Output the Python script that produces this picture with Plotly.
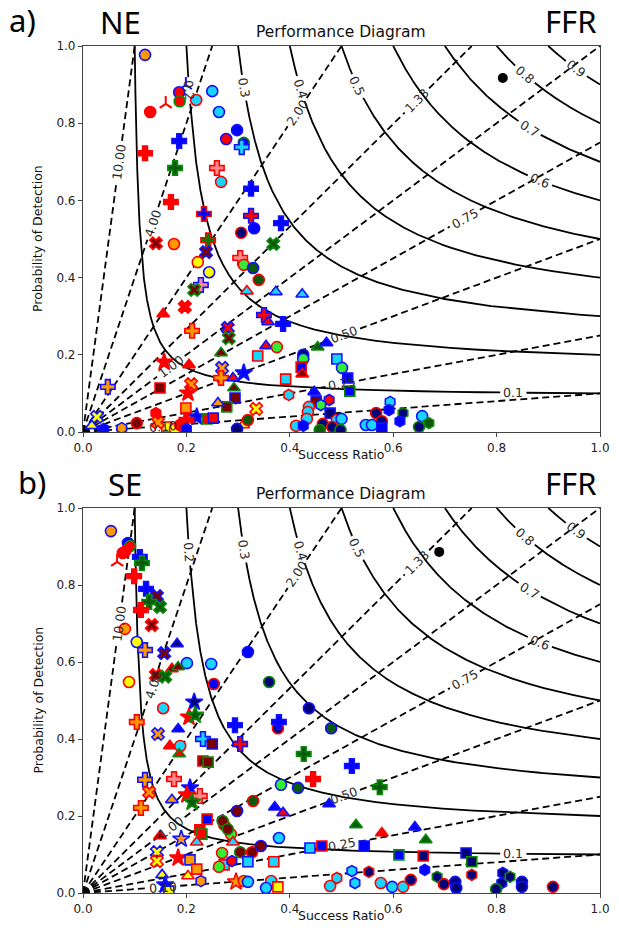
import numpy as np
import plotly.graph_objects as go

# ---------------- data ----------------
csi_levels = [0.1, 0.2, 0.3, 0.4, 0.5, 0.6, 0.7, 0.8, 0.9]
bias_levels = [10.0, 4.0, 2.0, 1.33, 1.0, 0.75, 0.5, 0.25, 0.1]

# label anchor points (success ratio, POD)
csi_label_sr = [0.832, 0.213, 0.319, 0.424, 0.536, 0.884, 0.865, 0.857, 0.955]
csi_label_pod = [0.104, 0.886, 0.894, 0.891, 0.899, 0.653, 0.790, 0.930, 0.943]
bias_label_sr = [0.072, 0.133, 0.414, 0.646, 0.168, 0.733, 0.503, 0.501, 0.155]
bias_label_pod = [0.700, 0.541, 0.829, 0.859, 0.174, 0.567, 0.259, 0.127, 0.016]

# Panel a) NE : success ratio, POD, and category code (marker kind + fill + edge group)
sr_ne = [0.120, 0.199, 0.186, 0.187, 0.160, 0.219, 0.250, 0.130, 0.263, 0.298,
         0.277, 0.311, 0.307, 0.186, 0.120, 0.178, 0.259, 0.267, 0.170, 0.325,
         0.325, 0.234, 0.331, 0.306, 0.383, 0.242, 0.141, 0.176, 0.238, 0.368,
         0.222, 0.244, 0.304, 0.311, 0.329, 0.340, 0.228, 0.215, 0.197, 0.155,
         0.317, 0.373, 0.350, 0.358, 0.387, 0.211, 0.280, 0.282, 0.267, 0.354,
         0.375, 0.338, 0.157, 0.205, 0.269, 0.267, 0.290, 0.311, 0.149, 0.209,
         0.203, 0.292, 0.294, 0.278, 0.261, 0.199, 0.141, 0.335, 0.220, 0.240,
         0.252, 0.104, 0.310, 0.319, 0.200, 0.048, 0.027, 0.017, 0.040, 0.075,
         0.162, 0.178, 0.188, 0.200, 0.298, 0.145, 0.424, 0.454, 0.471, 0.426,
         0.426, 0.422, 0.424, 0.491, 0.501, 0.512, 0.516, 0.392, 0.447, 0.398,
         0.451, 0.476, 0.437, 0.435, 0.433, 0.478, 0.460, 0.491, 0.500, 0.464,
         0.482, 0.412, 0.426, 0.458, 0.498, 0.594, 0.592, 0.619, 0.656, 0.669,
         0.613, 0.567, 0.578, 0.547, 0.559, 0.578, 0.650]
pod_ne = [0.977, 0.899, 0.880, 0.857, 0.850, 0.860, 0.883, 0.829, 0.829, 0.782,
          0.759, 0.749, 0.738, 0.754, 0.722, 0.684, 0.684, 0.648, 0.596, 0.630,
          0.560, 0.565, 0.528, 0.516, 0.541, 0.497, 0.489, 0.487, 0.466, 0.487,
          0.440, 0.414, 0.451, 0.433, 0.425, 0.394, 0.381, 0.368, 0.324, 0.306,
          0.365, 0.363, 0.303, 0.285, 0.280, 0.262, 0.270, 0.243, 0.205, 0.223,
          0.220, 0.197, 0.181, 0.174, 0.166, 0.140, 0.140, 0.153, 0.114, 0.124,
          0.101, 0.114, 0.088, 0.065, 0.075, 0.062, 0.049, 0.060, 0.039, 0.034,
          0.036, 0.023, 0.018, 0.031, 0.031, 0.117, 0.039, 0.016, 0.008, 0.010,
          0.013, 0.008, 0.018, 0.008, 0.008, 0.025, 0.357, 0.220, 0.231, 0.200,
          0.189, 0.168, 0.150, 0.189, 0.166, 0.140, 0.106, 0.137, 0.104, 0.096,
          0.080, 0.083, 0.065, 0.052, 0.034, 0.049, 0.070, 0.031, 0.034, 0.021,
          0.013, 0.016, 0.016, 0.005, 0.005, 0.078, 0.057, 0.049, 0.041, 0.023,
          0.028, 0.049, 0.028, 0.018, 0.018, 0.010, 0.013]
kind_ne = ["oOb", "YBb", "oRb", "oRg", "YRr", "oCr", "oCb", "oRr", "oCb", "oBb",
           "oRb", "oBg", "PCb", "PBb", "PRr", "PKg", "PPr", "oCr", "PRr", "PBb",
           "PRb", "PBr", "oBb", "oNr", "PBb", "PGr", "XDr", "oOr", "XDb", "XKg",
           "oYr", "oYb", "PPr", "oLr", "oKb", "oKr", "PPb", "XDg", "XRr", "^Rr",
           "^Cr", "^Cb", "PRb", "^Rb", "PBb", "POr", "XRb", "XDg", "^Dg", "^Rb",
           "oLr", "sCr", "*Rr", "^Rr", "XOb", "POr", "^Rb", "*Bb", "sDr", "XOr",
           "*Rr", "^Dg", "sDb", "sDg", "^Ob", "sOr", "hRr", "XYr", "*Bb", "sRg",
           "sRb", "oDr", "^Yr", "oKr", "PRr", "POb", "XYb", "^Yb", "hBb", "hOb",
           "sYr", "oYr", "oRr", "hBb", "oNb", "XOr", "^Cb", "^Kg", "^Bb", "oNb",
           "oLb", "sBr", "^Dr", "sCb", "oLb", "sBb", "sBg", "sCr", "^Bb", "hCr",
           "sDb", "hRb", "oCr", "oCr", "oCr", "sNb", "hLb", "oCr", "oCb", "oNr",
           "oNr", "oCr", "hBb", "oKg", "oNg", "hCb", "hBb", "hNg", "oCb", "hKg",
           "hBb", "oNr", "oNr", "oCb", "oCb", "sBb", "oNg"]

# Panel b) SE
sr_se = [0.054, 0.087, 0.091, 0.081, 0.077, 0.066, 0.110, 0.114, 0.099, 0.122,
         0.143, 0.128, 0.149, 0.112, 0.133, 0.081, 0.104, 0.120, 0.182, 0.157,
         0.201, 0.248, 0.172, 0.184, 0.141, 0.159, 0.089, 0.253, 0.319, 0.360,
         0.155, 0.215, 0.205, 0.217, 0.104, 0.145, 0.184, 0.168, 0.188, 0.186,
         0.232, 0.250, 0.232, 0.242, 0.294, 0.377, 0.379, 0.304, 0.120, 0.128,
         0.176, 0.172, 0.207, 0.201, 0.226, 0.211, 0.112, 0.298, 0.329, 0.383,
         0.416, 0.371, 0.387, 0.240, 0.226, 0.230, 0.273, 0.270, 0.286, 0.280,
         0.220, 0.290, 0.149, 0.190, 0.269, 0.304, 0.327, 0.344, 0.379, 0.143,
         0.143, 0.184, 0.207, 0.220, 0.273, 0.319, 0.369, 0.288, 0.263, 0.153,
         0.159, 0.166, 0.203, 0.228, 0.296, 0.311, 0.319, 0.364, 0.377, 0.354,
         0.437, 0.480, 0.427, 0.520, 0.445, 0.574, 0.476, 0.528, 0.578, 0.642,
         0.663, 0.439, 0.462, 0.544, 0.611, 0.658, 0.741, 0.752, 0.520, 0.553,
         0.661, 0.491, 0.478, 0.526, 0.576, 0.598, 0.619, 0.634, 0.685, 0.698,
         0.720, 0.722, 0.752, 0.812, 0.810, 0.826, 0.799, 0.849, 0.849, 0.909]
pod_se = [0.940, 0.909, 0.901, 0.886, 0.883, 0.860, 0.873, 0.857, 0.823, 0.790,
          0.771, 0.756, 0.743, 0.735, 0.696, 0.686, 0.652, 0.631, 0.647, 0.623,
          0.597, 0.595, 0.582, 0.587, 0.566, 0.562, 0.548, 0.543, 0.626, 0.548,
          0.480, 0.496, 0.457, 0.462, 0.444, 0.413, 0.426, 0.382, 0.382, 0.361,
          0.400, 0.387, 0.343, 0.340, 0.436, 0.428, 0.444, 0.387, 0.294, 0.262,
          0.296, 0.242, 0.273, 0.255, 0.252, 0.236, 0.221, 0.213, 0.239, 0.281,
          0.273, 0.223, 0.208, 0.192, 0.164, 0.153, 0.177, 0.187, 0.153, 0.166,
          0.132, 0.132, 0.148, 0.140, 0.104, 0.106, 0.106, 0.122, 0.143, 0.106,
          0.083, 0.091, 0.086, 0.062, 0.073, 0.081, 0.081, 0.083, 0.068, 0.047,
          0.021, 0.005, 0.044, 0.031, 0.029, 0.031, 0.029, 0.031, 0.016, 0.013,
          0.480, 0.428, 0.361, 0.330, 0.296, 0.275, 0.231, 0.177, 0.156, 0.171,
          0.138, 0.117, 0.122, 0.122, 0.099, 0.096, 0.104, 0.081, 0.057, 0.055,
          0.060, 0.039, 0.018, 0.026, 0.026, 0.016, 0.016, 0.034, 0.042, 0.023,
          0.029, 0.013, 0.047, 0.052, 0.026, 0.042, 0.010, 0.029, 0.016, 0.016]
kind_se = ["oOb", "oBb", "oRg", "oRr", "oRr", "YRr", "PBb", "PKg", "PRr", "PBb",
           "XDb", "PKg", "XKg", "PRr", "XDr", "oOr", "oYb", "POb", "^Nb", "XDb",
           "oCb", "oCb", "^Dr", "^Dg", "XDr", "XKg", "oYr", "oBr", "oBb", "oNg",
           "oCr", "*Nb", "*Rr", "*Kg", "POr", "XOb", "^Bb", "^Rr", "oCr", "^Rg",
           "PCb", "sDb", "sDr", "sDg", "PBb", "oNr", "PBb", "PRb", "POb", "XOr",
           "PPr", "^Ob", "*Bb", "*Rr", "PPr", "*Kg", "POr", "oDb", "oKr", "oLb",
           "oKb", "^Bb", "^Rb", "sBr", "sRr", "sRg", "oDr", "oDg", "oLr", "oDg",
           "^Cr", "^Cr", "^Dr", "*Ob", "oLr", "oDg", "oDr", "oDb", "oCb", "XYb",
           "XYr", "*Rr", "sOb", "sOr", "sCr", "sCb", "sCr", "hRb", "oLr", "^Yb",
           "*Bb", "sYb", "^Yr", "hOb", "*Or", "oOr", "oCb", "oCr", "sYr", "oCb",
           "oNb", "oKb", "PKg", "PBb", "PRr", "PKg", "^Bb", "^Kg", "^Rr", "^Bb",
           "^Kg", "sCb", "sBr", "sBb", "sBg", "sNr", "sNb", "sNg", "hCb", "hNr",
           "hBb", "hCr", "oCr", "hCb", "oCr", "oCb", "oCr", "oNr", "hNg", "oNr",
           "oNb", "oNb", "hNr", "hNb", "hNb", "hNg", "oNg", "oNb", "oNb", "oNr"]

best_ne = ([0.812], [0.917])
best_se = ([0.689], [0.886])

# ---------------- styling ----------------
W, H = 619, 937
X0, X1 = 83, 600
PANELS = [("x", "y", 46, 432), ("x2", "y2", 508, 893)]
FILL = {'R': '#ff0000', 'B': '#0000ff', 'G': '#008000', 'K': '#0b5a0b',
        'L': '#33ee33', 'O': '#ff9900', 'Y': '#ffff00', 'C': '#19d4ff',
        'N': '#000078', 'D': '#780000', 'P': '#ff8c8c'}
EDGE = {'b': '#1010ff', 'r': '#ff0000', 'g': '#0a8a0a'}
SYM = {'o': 'circle', 's': 'square', '^': 'triangle-up', 'P': 'cross',
       'X': 'x', '*': 'star', 'h': 'hexagon', 'Y': 'y-up'}
SIZE = {'o': 11, 's': 10, '^': 11, 'P': 12, 'X': 11, '*': 13, 'h': 11, 'Y': 10}
FONT_TXT = "DejaVu Sans"


def to_px(sr, pod, top, bot):
    return X0 + np.asarray(sr) * (X1 - X0), bot - np.asarray(pod) * (bot - top)


def text_w(s, fs=12.5):
    return sum(0.32 if c == '.' else 0.64 for c in s) * fs


fig = go.Figure()
annotations = []


def add_curve(sr, pod, lab_sr, lab_pod, text, xa, ya, top, bot, dash):
    px, py = to_px(sr, pod, top, bot)
    tx, ty = to_px(lab_sr, lab_pod, top, bot)
    i = int(np.argmin(np.hypot(px - tx, py - ty)))
    lx, ly = px[i], py[i]
    j0, j1 = max(i - 3, 0), min(i + 3, len(px) - 1)
    dx, dy = px[j1] - px[j0], py[j1] - py[j0]
    ang = np.degrees(np.arctan2(-dy, dx))
    if ang > 90:
        ang -= 180
    if ang <= -90:
        ang += 180
    r = text_w(text) / 2 + 3
    y = np.array(pod, dtype=float)
    y[np.hypot(px - lx, py - ly) < r] = np.nan
    fig.add_trace(go.Scatter(x=sr, y=y, mode="lines", xaxis=xa, yaxis=ya,
                             line=dict(color="black", width=1.8,
                                       dash="7px,4px" if dash else "solid"),
                             hoverinfo="skip", showlegend=False))
    annotations.append(dict(x=float(sr[i]), y=float(pod[i]), xref=xa, yref=ya,
                            text=text, showarrow=False, textangle=-ang,
                            font=dict(family=FONT_TXT, size=12.5, color="#2a2a2a")))


for xa, ya, top, bot in PANELS:
    t = np.linspace(0, 1, 3000)
    for c, ls, lp in zip(csi_levels, csi_label_sr, csi_label_pod):
        s = c + (1 - c) * t ** 2
        p = 1.0 / (1.0 / c + 1.0 - 1.0 / s)
        add_curve(s, p, ls, lp, f"{c:.1f}", xa, ya, top, bot, False)
    for b, ls, lp in zip(bias_levels, bias_label_sr, bias_label_pod):
        s = np.linspace(0, min(1.0, 1.0 / b), 3000)
        p = b * s
        add_curve(s, p, ls, lp, f"{b:.2f}", xa, ya, top, bot, True)

for (xa, ya, top, bot), sr, pod, kind, best in [
        (PANELS[0], sr_ne, pod_ne, kind_ne, best_ne),
        (PANELS[1], sr_se, pod_se, kind_se, best_se)]:
    n = min(len(sr), len(pod), len(kind))
    symbols = [SYM[k[0]] for k in kind[:n]]
    colors = [FILL[k[1]] for k in kind[:n]]
    lines = [EDGE[k[2]] for k in kind[:n]]
    sizes = [SIZE[k[0]] for k in kind[:n]]
    widths = [2.0 if k[0] == 'Y' else 1.6 for k in kind[:n]]
    fig.add_trace(go.Scatter(x=sr[:n], y=pod[:n], mode="markers", xaxis=xa, yaxis=ya,
                             marker=dict(symbol=symbols, color=colors, size=sizes,
                                         opacity=1,
                                         line=dict(color=lines, width=widths)),
                             hoverinfo="skip", showlegend=False))
    fig.add_trace(go.Scatter(x=best[0], y=best[1], mode="markers", xaxis=xa, yaxis=ya,
                             marker=dict(symbol="circle", color="black", size=10, opacity=1),
                             hoverinfo="skip", showlegend=False))

ax_common = dict(range=[0, 1], tickvals=[0, 0.2, 0.4, 0.6, 0.8, 1.0],
                 ticktext=["0.0", "0.2", "0.4", "0.6", "0.8", "1.0"],
                 showgrid=False, zeroline=False, showline=True, mirror=True,
                 automargin=False,
                 linecolor="#444", linewidth=1.2, ticks="outside", ticklen=4,
                 tickcolor="#444", tickfont=dict(family=FONT_TXT, size=12, color="#222"))
layout = dict(width=W, height=H, margin=dict(l=0, r=0, t=0, b=0, autoexpand=False),
              template="none",
              paper_bgcolor="white", plot_bgcolor="white", showlegend=False)
for k, (xa, ya, top, bot) in enumerate(PANELS):
    sfx = "" if k == 0 else "2"
    layout["xaxis" + sfx] = dict(ax_common, domain=[X0 / W, X1 / W], anchor=ya)
    layout["yaxis" + sfx] = dict(ax_common, domain=[1 - bot / H, 1 - top / H], anchor=xa)


def txt(x, y, s, size, family=FONT_TXT, angle=0, color="#111"):
    annotations.append(dict(x=x / W, y=1 - y / H, xref="paper", yref="paper", text=s,
                            showarrow=False, textangle=angle, xanchor="center",
                            yanchor="middle",
                            font=dict(family=family, size=size, color=color)))


BIG = "Noto Sans"
for (xa, ya, top, bot), lab, reg in [(PANELS[0], "a)", "NE"), (PANELS[1], "b)", "SE")]:
    txt(22 if lab == "a)" else 32, top - 26, lab, 31, BIG, color="#000")
    txt(120 if reg == "NE" else 125, top - 24, reg, 31, BIG, color="#000")
    txt(570, top - 25, "FFR", 31, BIG, color="#000")
    txt(341, top - 14, "Performance Diagram", 15.5)
    txt(341, bot + 22, "Success Ratio", 12.5)
    txt(38, (top + bot) / 2, "Probability of Detection", 12.5, angle=-90)

layout["annotations"] = annotations
fig.update_layout(**layout)
fig.write_html("out.html", config={"displayModeBar": False},
               post_script="document.body.style.margin='0';document.body.style.padding='0';")
